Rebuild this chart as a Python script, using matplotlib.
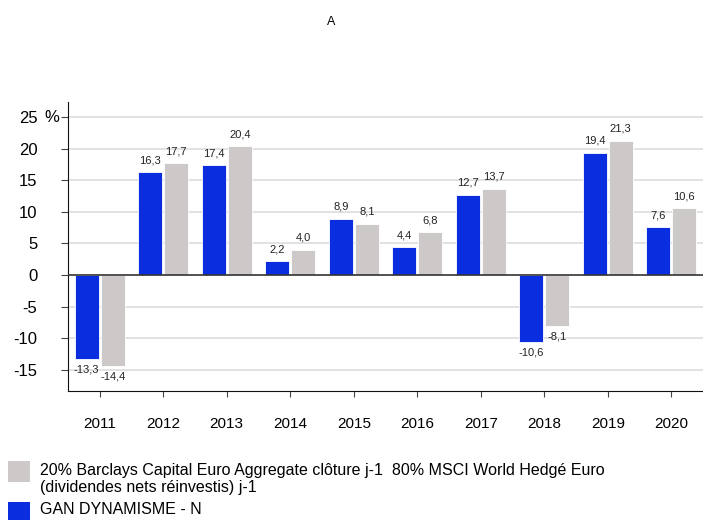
import matplotlib
matplotlib.use("Agg")
import matplotlib.pyplot as plt
import numpy as np
from matplotlib.patches import Rectangle

plt.rcParams['font.family'] = ['Liberation Sans', 'DejaVu Sans']

years = ["2011", "2012", "2013", "2014", "2015", "2016", "2017", "2018", "2019", "2020"]
fund = [-13.3, 16.3, 17.4, 2.2, 8.9, 4.4, 12.7, -10.6, 19.4, 7.6]
bench = [-14.4, 17.7, 20.4, 4.0, 8.1, 6.8, 13.7, -8.1, 21.3, 10.6]
yticks = [-15, -10, -5, 0, 5, 10, 15, 20, 25]
fund_name = "GAN DYNAMISME - N"
bench_name = "20% Barclays Capital Euro Aggregate clôture j-1  80% MSCI World Hedgé Euro\n(dividendes nets réinvestis) j-1"

blue = "#0b2de0"
grey = "#cdc9c9"

fig = plt.figure(figsize=(7.03, 5.2), dpi=100)
ax = fig.add_axes([68/703, 1-391/520, 1-68/703, (391-102)/520])

x = np.arange(len(years))
w = 0.385
off = 0.205
b1 = ax.bar(x - off, fund, w, color=blue, edgecolor='white', linewidth=0.6, zorder=3)
b2 = ax.bar(x + off, bench, w, color=grey, edgecolor='white', linewidth=0.6, zorder=3)

def fmt(v):
    return f"{v:.1f}".replace(".", ",")

for bars, vals in ((b1, fund), (b2, bench)):
    for r, v in zip(bars, vals):
        cx = r.get_x() + r.get_width()/2
        if v >= 0:
            ax.annotate(fmt(v), (cx, v), xytext=(0, 5), textcoords='offset points',
                        ha='center', va='bottom', fontsize=8, color='#222222')
        else:
            ax.annotate(fmt(v), (cx, v), xytext=(0, -4), textcoords='offset points',
                        ha='center', va='top', fontsize=8, color='#222222')

ax.set_xlim(-0.5, len(years) - 0.5)
ax.set_ylim(-18.35, 27.4)
ax.set_yticks(yticks)
ax.set_yticklabels([str(t) for t in yticks], fontsize=12)
ax.set_xticks(x)
ax.set_xticklabels(years, fontsize=11)
ax.tick_params(axis='y', length=5, pad=17, color='#444444')
ax.tick_params(axis='x', length=4, pad=15, color='#444444')

for t in yticks:
    if t != 0:
        ax.axhline(t, color='#dddddd', linewidth=1.2, zorder=1)
ax.axhline(0, color='#333333', linewidth=1.2, zorder=4)

for s in ['top', 'right']:
    ax.spines[s].set_visible(False)
ax.spines['left'].set_color('#111111')
ax.spines['bottom'].set_color('#111111')

fig.text(52/703, 1-117/520, "%", fontsize=12, ha='center', va='center')

fig.text(331/703, 1-22/520, "A", fontsize=9, ha='center', va='center')

# legend
fig.patches.append(Rectangle((8/703, 1-482/520), 22/703, 21/520, transform=fig.transFigure,
                             facecolor=grey, edgecolor='none'))
fig.text(40/703, 1-479/520, bench_name, fontsize=11.5, ha='left', va='center', linespacing=1.2)
fig.patches.append(Rectangle((8/703, 1-520/520), 22/703, 18/520, transform=fig.transFigure,
                             facecolor=blue, edgecolor='none'))
fig.text(40/703, 1-510/520, fund_name, fontsize=11.5, ha='left', va='center')

fig.savefig("out.png", dpi=100)
